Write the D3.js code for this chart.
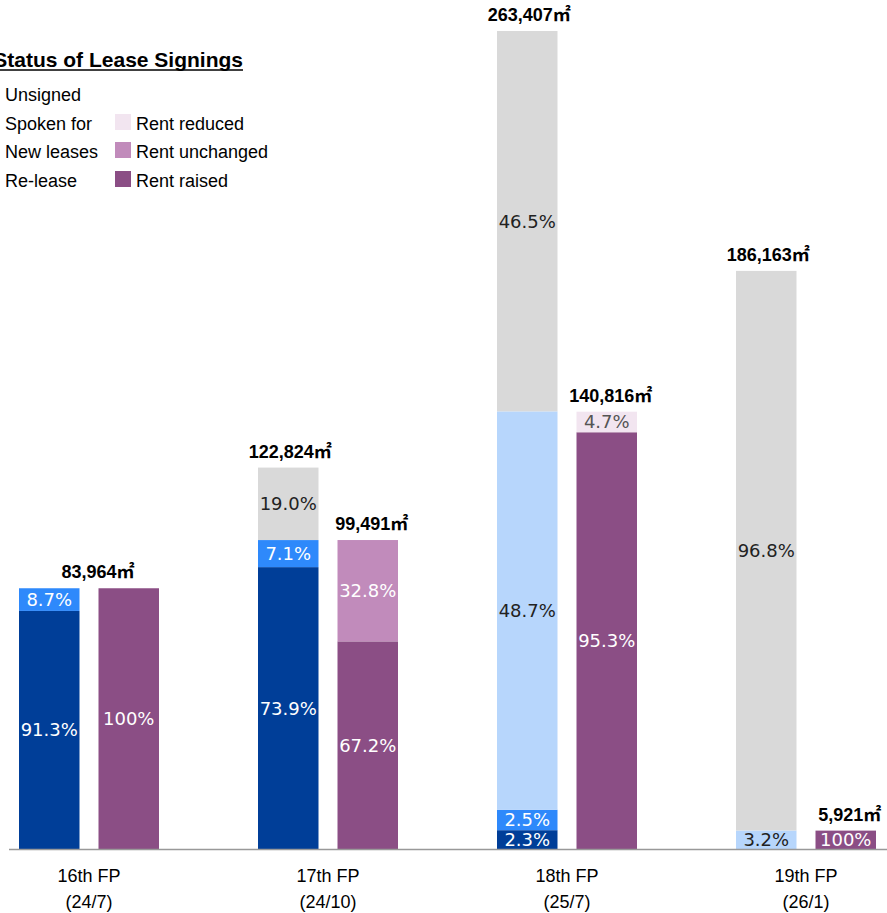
<!DOCTYPE html>
<html>
<head>
<meta charset="utf-8">
<script src="https://cdn.jsdelivr.net/npm/d3@7"></script>
<style>
  html, body { margin: 0; padding: 0; background: #fff; overflow: hidden; }
  svg { display: block; }
</style>
</head>
<body>
<div id="chart"></div>
<script>
// data
var categories = ["16th FP", "17th FP", "18th FP", "19th FP"];
var periods = ["(24/7)", "(24/10)", "(25/7)", "(26/1)"];
var areaTotals = [83964, 122824, 263407, 186163];   // left bar, m2
var rentTotals = [83964, 99491, 140816, 5921];      // right bar, m2

// left bar shares (bottom to top)
var releasePct = [91.3, 73.9, 2.3, 0];
var newLeasePct = [8.7, 7.1, 2.5, 0];
var spokenPct = [0, 0, 48.7, 3.2];
var unsignedPct = [0, 19.0, 46.5, 96.8];

// right bar shares (bottom to top)
var raisedPct = [100, 67.2, 95.3, 100];
var unchangedPct = [0, 32.8, 0, 0];
var reducedPct = [0, 0, 4.7, 0];

var leftKeys = ["Re-lease", "New leases", "Spoken for", "Unsigned"];
var rightKeys = ["Rent raised", "Rent unchanged", "Rent reduced"];

var color = d3.scaleOrdinal()
  .domain(leftKeys.concat(rightKeys))
  .range(["#003E98", "#2E89FB", "#B7D6FC", "#D9D9D9", "#8B4E85", "#C18BBB", "#F2E5F0"]);
var textColor = {
  "Re-lease": "#fff", "New leases": "#fff", "Spoken for": "#222", "Unsigned": "#222",
  "Rent raised": "#fff", "Rent unchanged": "#fff", "Rent reduced": "#555"
};

var width = 887, height = 913;
var baseY = 849;

var svg = d3.select("#chart").append("svg")
  .attr("width", width).attr("height", height);

var x = d3.scaleBand()
  .domain(categories)
  .range([-30.5, -30.5 + 239 * categories.length]);

var xSub = d3.scaleBand()
  .domain(["area", "rent"])
  .range([x.bandwidth() / 2 - 70, x.bandwidth() / 2 + 70])
  .paddingInner(0.239);

var y = d3.scaleLinear().domain([0, 263407]).range([baseY, 31]);

var fmt = d3.format(",");
var pctFmt = function (v) { return v === 100 ? "100%" : v.toFixed(1) + "%"; };

// build segment rows
var segs = [];
categories.forEach(function (c, i) {
  var leftVals = [releasePct[i], newLeasePct[i], spokenPct[i], unsignedPct[i]];
  var acc = 0;
  leftKeys.forEach(function (k, j) {
    var v = leftVals[j];
    if (v > 0) segs.push({ cat: c, side: "area", key: k, pct: v, y0: acc * areaTotals[i] / 100, y1: (acc + v) * areaTotals[i] / 100 });
    acc += v;
  });
  var rightVals = [raisedPct[i], unchangedPct[i], reducedPct[i]];
  acc = 0;
  rightKeys.forEach(function (k, j) {
    var v = rightVals[j];
    if (v > 0) segs.push({ cat: c, side: "rent", key: k, pct: v, y0: acc * rentTotals[i] / 100, y1: (acc + v) * rentTotals[i] / 100 });
    acc += v;
  });
});

var g = svg.append("g");

g.selectAll("rect.seg").data(segs).enter().append("rect")
  .attr("class", "seg")
  .attr("x", function (d) { return x(d.cat) + xSub(d.side); })
  .attr("width", xSub.bandwidth())
  .attr("y", function (d) { return y(d.y1); })
  .attr("height", function (d) { return y(d.y0) - y(d.y1); })
  .attr("fill", function (d) { return color(d.key); });

g.selectAll("text.pct").data(segs).enter().append("text")
  .attr("class", "pct")
  .attr("x", function (d) { return x(d.cat) + xSub(d.side) + xSub.bandwidth() / 2; })
  .attr("y", function (d) { return (y(d.y0) + y(d.y1)) / 2; })
  .attr("dy", "0.36em")
  .attr("text-anchor", "middle")
  .style("font-family", "'DejaVu Sans', Verdana, sans-serif")
  .style("font-size", "18px")
  .attr("fill", function (d) { return textColor[d.key]; })
  .text(function (d) { return pctFmt(d.pct); });

// totals above bars
var totals = [];
categories.forEach(function (c, i) {
  if (areaTotals[i] === rentTotals[i]) {
    totals.push({ cx: x(c) + x.bandwidth() / 2 + 9, v: areaTotals[i] });
  } else {
    totals.push({ cx: x(c) + xSub("area") + xSub.bandwidth() / 2 + 2, v: areaTotals[i] });
    totals.push({ cx: x(c) + xSub("rent") + xSub.bandwidth() / 2 + 4, v: rentTotals[i] });
  }
});

var tot = g.selectAll("text.total").data(totals).enter().append("text")
  .attr("class", "total")
  .attr("x", function (d) { return d.cx; })
  .attr("y", function (d) { return y(d.v) - 10; })
  .attr("text-anchor", "middle")
  .style("font-family", "'Liberation Sans', Arial, sans-serif")
  .style("font-weight", "bold")
  .style("font-size", "18px")
  .attr("fill", "#000");
tot.append("tspan").text(function (d) { return fmt(d.v); });
tot.append("tspan")
  .style("font-family", "'Noto Sans CJK JP', 'Noto Sans CJK SC', sans-serif")
  .text("㎡");

// baseline
svg.append("line")
  .attr("x1", 9).attr("x2", width)
  .attr("y1", baseY + 0.5).attr("y2", baseY + 0.5)
  .attr("stroke", "#999").attr("stroke-width", 1.5);

// category labels
var cl = svg.selectAll("g.cat").data(categories).enter().append("g")
  .attr("class", "cat")
  .attr("transform", function (d) { return "translate(" + (x(d) + x.bandwidth() / 2) + ",0)"; })
  .style("font-family", "'Liberation Sans', Arial, sans-serif")
  .style("font-size", "18px")
  .attr("fill", "#000")
  .attr("text-anchor", "middle");
cl.append("text").attr("y", 882).text(function (d) { return d; });
cl.append("text").attr("y", 908).text(function (d, i) { return periods[i]; });

// legend
var leg = svg.append("g")
  .style("font-family", "'Liberation Sans', Arial, sans-serif");
var title = leg.append("text")
  .attr("x", 243).attr("y", 67)
  .attr("text-anchor", "end")
  .style("font-weight", "bold")
  .style("font-size", "21px")
  .text("Status of Lease Signings");
var tb = title.node().getBBox();
leg.append("line")
  .attr("x1", tb.x).attr("x2", tb.x + tb.width)
  .attr("y1", 70).attr("y2", 70)
  .attr("stroke", "#000").attr("stroke-width", 1.6);

var rowY = [101, 130, 158, 187];
var leftLegend = ["Unsigned", "Spoken for", "New leases", "Re-lease"];
var rightLegend = [null, "Rent reduced", "Rent unchanged", "Rent raised"];

leftLegend.forEach(function (k, i) {
  leg.append("rect").attr("x", -16).attr("y", rowY[i] - 16)
    .attr("width", 16).attr("height", 16).attr("fill", color(k));
  leg.append("text").attr("x", 5).attr("y", rowY[i])
    .style("font-size", "18px").text(k);
});
rightLegend.forEach(function (k, i) {
  if (!k) return;
  leg.append("rect").attr("x", 115).attr("y", rowY[i] - 16)
    .attr("width", 16).attr("height", 16).attr("fill", color(k));
  leg.append("text").attr("x", 136).attr("y", rowY[i])
    .style("font-size", "18px").text(k);
});
</script>
</body>
</html>
